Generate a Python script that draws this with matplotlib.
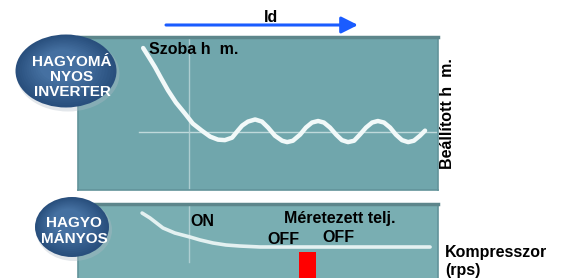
import matplotlib
matplotlib.use("Agg")
import matplotlib.pyplot as plt
from matplotlib.patches import Ellipse
import numpy as np

plt.rcParams['font.family'] = ['Liberation Sans', 'DejaVu Sans']

# ---- data ----
# top panel: room temperature vs time (arbitrary units, 0..100)
room_time = [18.1, 19.7, 21.4, 23.1, 25.0, 27.2, 29.7, 31.9, 34.4, 36.7, 38.9, 40.8,
             42.8, 44.4, 45.6, 47.2, 49.2, 51.1, 52.8, 54.7, 56.7, 58.1, 59.7, 61.7,
             63.3, 65.0, 66.7, 68.3, 70.0, 71.7, 73.3, 75.0, 76.7, 78.3, 80.0, 81.7,
             83.3, 85.0, 86.7, 88.3, 90.0, 91.7, 93.3, 95.0, 96.4]
room_temp = [92.8, 86.8, 80.3, 73.0, 65.1, 57.2, 50.0, 43.4, 38.8, 34.9, 32.9, 32.6,
             34.2, 38.8, 42.1, 44.7, 46.1, 44.7, 40.8, 35.5, 32.2, 31.3, 32.2, 36.2,
             40.8, 44.1, 45.1, 44.1, 40.8, 36.2, 32.6, 31.3, 32.2, 36.2, 40.8, 44.1,
             45.1, 44.1, 40.8, 36.2, 32.6, 31.3, 32.2, 35.5, 38.8]
set_temp = 38.2
on_time = 30.8

# bottom panel: conventional unit curve
conv_time = [17.8, 20.0, 23.6, 26.9, 31.1, 33.9, 37.5, 41.1, 45.0, 50.6, 61.7, 75.6, 89.4, 97.8]
conv_val = [87.8, 81.1, 67.6, 60.8, 55.4, 51.4, 47.3, 44.6, 43.2, 41.9, 41.9, 41.9, 41.9, 41.9]
comp_time = [63.75]
comp_rps = [35.1]
on_line_bottom = 21.6

panel_color = '#70a6ac'
panel_color2 = '#79aeb2'
edge_color = '#62939a'

W, H = 564, 278
fig = plt.figure(figsize=(W / 100, H / 100), dpi=100)
fig.patch.set_facecolor('white')

def frac(x0, y0, x1, y1):
    return [x0 / W, 1 - y1 / H, (x1 - x0) / W, (y1 - y0) / H]

# top panel
ax1 = fig.add_axes(frac(78, 37, 438, 190))
ax1.set_facecolor(panel_color)
ax1.set_xlim(0, 100)
ax1.set_ylim(0, 100)
ax1.set_xticks([]); ax1.set_yticks([])
for k, s in ax1.spines.items():
    s.set_color(edge_color); s.set_linewidth(1.2)
ax1.spines['top'].set_linewidth(2.5)
ax1.spines['top'].set_color('#5d868b')
ax1.plot([17.0, 100], [set_temp, set_temp], color='#c9dfe1', lw=1.0, alpha=0.9)
ax1.plot([on_time, on_time], [0, 100], color='#b4d2d5', lw=1.0, alpha=0.9)
ax1.plot(room_time, room_temp, color='#f2f9f9', lw=3.2, solid_capstyle='round',
         solid_joinstyle='round')

# bottom panel
ax2 = fig.add_axes(frac(78, 204, 438, 278))
ax2.set_facecolor(panel_color2)
ax2.set_xlim(0, 100)
ax2.set_ylim(0, 100)
ax2.set_xticks([]); ax2.set_yticks([])
for k, s in ax2.spines.items():
    s.set_color(edge_color); s.set_linewidth(1.2)
ax2.spines['top'].set_linewidth(2.5)
ax2.spines['top'].set_color('#5d868b')
ax2.spines['bottom'].set_visible(False)
ax2.plot([on_time, on_time], [on_line_bottom, 100], color='#b4d2d5', lw=1.0, alpha=0.9)
ax2.plot(conv_time, conv_val, color='#e4f1f1', lw=2.6, solid_capstyle='round',
         solid_joinstyle='round')
ax2.bar(comp_time, comp_rps, width=4.7, color='#ff0000', zorder=3)

# overlay for annotations
ov = fig.add_axes([0, 0, 1, 1], zorder=10)
ov.set_xlim(0, W); ov.set_ylim(H, 0)
ov.axis('off')
ov.patch.set_alpha(0)

# ellipses with a soft gradient
def blob(cx, cy, w, h):
    ov.add_patch(Ellipse((cx + 2, cy + 3), w + 2, h + 2, color='#b0bcc6', alpha=0.35, lw=0))
    c_out = np.array([0.16, 0.31, 0.49])
    c_in = np.array([0.27, 0.44, 0.63])
    n = 12
    for i in range(n):
        f = i / (n - 1)
        s = 1 - 0.55 * f
        col = c_out * (1 - f) + c_in * f
        ov.add_patch(Ellipse((cx - 4 * f, cy - 5 * f), w * s, h * s, color=tuple(col), lw=0))

blob(66, 71, 101, 73)
blob(72, 227, 74, 60)

ov.text(72, 77, 'HAGYOMÁ\nNYOS\nINVERTER', color='white', fontsize=11, fontweight='bold',
        ha='center', va='center', linespacing=1.12)
ov.text(74, 231, 'HAGYO\nMÁNYOS', color='white', fontsize=11, fontweight='bold',
        ha='center', va='center', linespacing=1.12)

# time arrow
ov.annotate('', xy=(358, 25), xytext=(166, 25),
            arrowprops=dict(arrowstyle='-|>,head_length=1.0,head_width=0.5',
                            color='#1a5cff', lw=2.2, shrinkA=0, shrinkB=0))
ov.text(271, 17, 'Id', fontsize=11.5, fontweight='bold', ha='center', va='center')

fs = 11.5
ov.text(149, 50, 'Szoba h  m.', fontsize=fs, fontweight='bold', ha='left', va='center')
ov.text(448, 114, 'Beállított h  m.', fontsize=fs, fontweight='bold', ha='center',
        va='center', rotation=90)
ov.text(202, 221, 'ON', fontsize=fs, fontweight='bold', ha='center', va='center')
ov.text(340, 218, 'Méretezett telj.', fontsize=fs, fontweight='bold', ha='center', va='center')
ov.text(283, 240, 'OFF', fontsize=fs, fontweight='bold', ha='center', va='center')
ov.text(338, 238, 'OFF', fontsize=fs, fontweight='bold', ha='center', va='center')
ov.text(445, 253, 'Kompresszor', fontsize=fs, fontweight='bold', ha='left', va='center')
ov.text(445, 270, '(rps)', fontsize=fs, fontweight='bold', ha='left', va='center')

fig.savefig('out.png', dpi=100, facecolor='white')
